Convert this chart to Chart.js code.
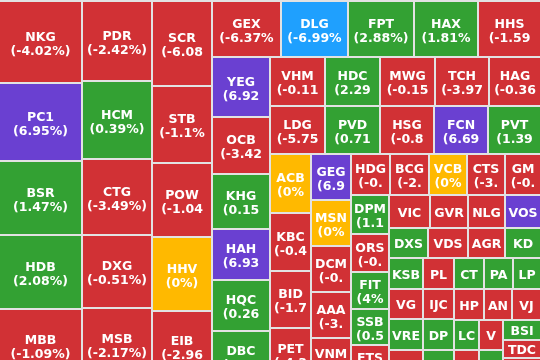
<!DOCTYPE html>
<html>
<head>
<meta charset="utf-8">
<script src="https://cdn.jsdelivr.net/npm/chart.js@4.4.1/dist/chart.umd.min.js"></script>
<style>
  html, body { margin: 0; padding: 0; width: 540px; height: 360px; overflow: hidden; background: #e2e2e2; }
  #wrap { position: absolute; left: -1px; top: 0; width: 542px; height: 382px; }
</style>
</head>
<body>
<div id="wrap"><canvas id="heatmap" width="542" height="382"></canvas></div>
<script>
//// data
const tickers = [
    "NKG", "PC1", "BSR", "HDB", "MBB",
    "PDR", "HCM", "CTG", "DXG", "MSB",
    "SCR", "STB", "POW", "HHV", "EIB",
    "GEX", "DLG", "FPT", "HAX", "HHS",
    "YEG", "OCB", "KHG", "HAH", "HQC", "DBC",
    "VHM", "HDC", "MWG", "TCH", "HAG",
    "LDG", "PVD", "HSG", "FCN", "PVT",
    "ACB", "KBC", "BID", "PET",
    "GEG", "MSN", "DCM", "AAA", "VNM",
    "HDG", "BCG", "VCB", "CTS", "GM",
    "DPM", "ORS", "FIT", "SSB", "FTS",
    "VIC", "GVR", "NLG", "VOS",
    "DXS", "VDS", "AGR", "KD",
    "KSB", "VG", "VRE", "CII",
    "PL", "CT", "PA", "LP",
    "IJC", "DP", "TV2",
    "HP", "AN", "VJ",
    "LC", "SJS",
    "V", "L14",
    "BSI", "TDC", "TNH"
]

// % change of the day
const changes = [
    -4.02, 6.95, 1.47, 2.08, -1.09,
    -2.42, 0.39, -3.49, -0.51, -2.17,
    -6.08, -1.1, -1.04, 0, -2.96,
    -6.37, -6.99, 2.88, 1.81, -1.59,
    6.92, -3.42, 0.15, 6.93, 0.26, 1.73,
    -0.11, 2.29, -0.15, -3.97, -0.36,
    -5.75, 0.71, -0.8, 6.69, 1.39,
    0, -0.43, -1.74, -4.32,
    6.96, 0, -0.53, -3.45, -0.47,
    -0.62, -2.31, 0, -3.1, -0.44,
    1.15, -0.84, 4, 0.53, -1.2,
    -0.5, -1.3, -0.9, 6.94,
    2.1, -1.8, -0.6, 0.9,
    1.2, -2.4, 0.8, -1.6,
    -3.1, 1.4, 0.7, 2.3,
    -1.9, 1.6, 0.5,
    -2.7, -0.9, -1.4,
    0.6, -0.7,
    -2.2, 1.1,
    0.4, -1.5, -0.3
]

// size of each box (trading value)
const sizes = [
    6806, 6432, 6160, 6160, 5976,
    5675, 5464, 5323, 5182, 5146,
    5100, 4620, 4440, 4440, 4200,
    3836, 3752, 3680, 3612, 3516,
    3480, 3335, 3161, 2987, 2929, 2900,
    2722, 2722, 2698, 2673, 2574,
    2589, 2636, 2565, 2541, 2518,
    2390, 2349, 2309, 2147,
    1850, 1870, 1870, 1850, 1753,
    1579, 1610, 1540, 1558, 1484,
    1489, 1410, 1395, 1370, 1348,
    1335, 1265, 1215, 1200,
    1143, 1184, 1086, 1080,
    1055, 1031, 1040, 1038,
    958, 936, 900, 888,
    940, 930, 954,
    930, 880, 900,
    750, 790,
    724, 763,
    760, 690, 874
]


//// colours
const RED = '#d13135'
const GREEN = '#33a133'
const PURPLE = '#6a40d1'   // ceiling
const BLUE = '#1fa0fe'     // floor
const YELLOW = '#ffb900'   // unchanged

function changeColor(c) {
    if (c >= 6.5) return PURPLE
    if (c <= -6.5) return BLUE
    if (c > 0) return GREEN
    if (c < 0) return RED
    return YELLOW
}


//// squarified layout (strips laid along the shorter side)
function squarify(values, x0, y0, x1, y1, ratio) {
    const boxes = []
    const n = values.length
    let value = values.reduce((a, b) => a + b, 0)
    let i0 = 0, i1 = 0

    while (i0 < n) {
        const dx = x1 - x0, dy = y1 - y0
        let sum = values[i1++]
        let minV = sum, maxV = sum
        const alpha = Math.max(dy / dx, dx / dy) / (value * ratio)
        let beta = sum * sum * alpha
        let minRatio = Math.max(maxV / beta, beta / minV)

        // keep adding boxes while the worst aspect ratio gets better
        for (; i1 < n; ++i1) {
            const v = values[i1]
            sum += v
            if (v < minV) minV = v
            if (v > maxV) maxV = v
            beta = sum * sum * alpha
            const newRatio = Math.max(maxV / beta, beta / minV)
            if (newRatio > minRatio) { sum -= v; break }
            minRatio = newRatio
        }

        if (dx < dy) {
            // row across the top
            const yb = y0 + dy * sum / value
            let x = x0
            for (let i = i0; i < i1; i++) {
                const w = dx * values[i] / sum
                boxes[i] = { x0: x, y0: y0, x1: x + w, y1: yb }
                x += w
            }
            y0 = yb
        } else {
            // column on the left
            const xb = x0 + dx * sum / value
            let y = y0
            for (let i = i0; i < i1; i++) {
                const h = dy * values[i] / sum
                boxes[i] = { x0: x0, y0: y, x1: xb, y1: y + h }
                y += h
            }
            x0 = xb
        }
        value -= sum
        i0 = i1
    }
    return boxes
}


//// treemap controller
const GAP = 2
const FONT = 'bold 12.5px "DejaVu Sans"'

// the source cut the % label by the advance widths of a Verdana-like bold face,
// so the cut is decided with those widths (em) instead of the drawn font
const LABEL_SIZE = 11.4
const LABEL_PAD = 3.29
const ADVANCE = { '(': 0.544, ')': 0.544, '-': 0.479, '.': 0.364, '%': 1.306 }

function labelWidth(s) {
    let w = 0
    for (const ch of s) w += (ADVANCE[ch] !== undefined ? ADVANCE[ch] : 0.712)
    return w * LABEL_SIZE
}

function fitText(text, maxWidth) {
    let s = text
    while (s.length > 1 && labelWidth(s) > maxWidth) s = s.slice(0, -1)
    return s
}

class HeatCell extends Chart.Element {
    static id = 'heatCell'
    static defaults = {}

    inRange(mx, my) {
        return mx >= this.x && mx <= this.x + this.width && my >= this.y && my <= this.y + this.height
    }
    getCenterPoint() {
        return { x: this.x + this.width / 2, y: this.y + this.height / 2 }
    }
    tooltipPosition() {
        return this.getCenterPoint()
    }

    draw(ctx) {
        const { x, y, width, height } = this
        if (width <= 0 || height <= 0) return
        ctx.save()
        ctx.fillStyle = this.color
        ctx.fillRect(x, y, width, height)

        ctx.beginPath()
        ctx.rect(x, y, width, height)
        ctx.clip()
        ctx.fillStyle = '#ffffff'
        ctx.font = FONT
        ctx.textAlign = 'center'
        ctx.textBaseline = 'alphabetic'
        const cx = x + width / 2
        const cy = y + height / 2
        if (height >= 34) {
            ctx.fillText(this.ticker, cx, cy - 1.5)
            const pct = '(' + this.change + '%)'
            ctx.fillText(fitText(pct, width - 2 * LABEL_PAD), cx, cy + 12.5)
        } else {
            ctx.fillText(this.ticker, cx, cy + 5)
        }
        ctx.restore()
    }
}

class HeatmapController extends Chart.DatasetController {
    static id = 'heatmap'
    static defaults = {
        datasetElementType: false,
        dataElementType: 'heatCell'
    }

    parse(start, count) {
        const meta = this._cachedMeta
        const data = this.getDataset().data
        for (let i = start; i < start + count; i++) {
            meta._parsed[i] = { x: 0, y: data[i] }
        }
    }

    update(mode) {
        const meta = this._cachedMeta
        const dataset = this.getDataset()
        const labels = this.chart.data.labels
        const xScale = meta.xScale
        const yScale = meta.yScale
        const boxes = squarify(dataset.data, xScale.min, yScale.min, xScale.max, yScale.max, dataset.squareRatio || 1)

        meta.data.forEach((cell, i) => {
            const b = boxes[i]
            const left = Math.round(xScale.getPixelForValue(b.x0))
            const right = Math.round(xScale.getPixelForValue(b.x1))
            const top = Math.round(yScale.getPixelForValue(b.y0))
            const bottom = Math.round(yScale.getPixelForValue(b.y1))
            Object.assign(cell, {
                x: left + GAP / 2,
                y: top + GAP / 2,
                width: right - left - GAP,
                height: bottom - top - GAP,
                ticker: labels[i],
                change: dataset.changes[i],
                color: dataset.backgroundColor[i]
            })
        })
    }

    draw() {
        const ctx = this.chart.ctx
        this._cachedMeta.data.forEach(cell => cell.draw(ctx))
    }
}

Chart.register(HeatmapController, HeatCell)


//// chart
const heatmapElement = document.querySelector('#heatmap')

let heatmapChart = new Chart(heatmapElement, {
    type: 'heatmap',
    data: {
        labels: tickers,
        datasets: [
            {
                label: 'Heatmap',
                data: sizes,
                changes: changes,
                backgroundColor: changes.map(changeColor),
                squareRatio: 0.92
            }
        ]
    },
    options: {
        responsive: false,
        devicePixelRatio: 1,
        animation: false,
        events: [],
        layout: {
            padding: { top: 1, bottom: 1, left: 0, right: 0 }
        },
        scales: {
            x: { type: 'linear', min: 0, max: 542, bounds: 'data', display: false },
            y: { type: 'linear', min: 0, max: 380, bounds: 'data', reverse: true, display: false }
        },
        plugins: {
            legend: { display: false },
            tooltip: { enabled: false }
        }
    }
});

heatmapChart.update()
</script>
</body>
</html>
